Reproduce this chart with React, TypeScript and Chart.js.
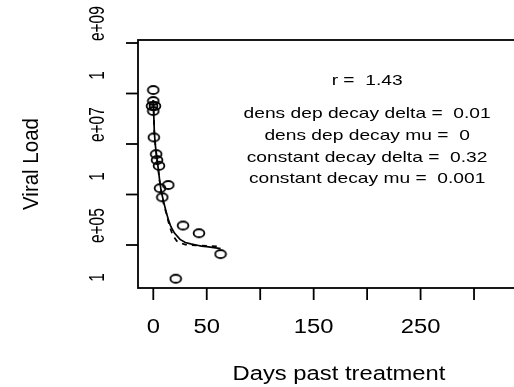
import React, { useEffect, useRef } from "react";
import { Chart, registerables } from "chart.js";

Chart.register(...registerables);

// Observed viral loads
const obsDays = [0, 0, -1.2, 1.6, 0, 0.5, 2.7, 3.5, 5.3, 6.3, 14, 8.4, 27.8, 42.7, 62.9, 21];
const obsLoad = [1.17e8, 7.1e7, 5.65e7, 5.65e7, 4.5e7, 1.35e7, 6.3e6, 4.8e6, 3.7e6, 1.33e6, 1.54e6, 8.8e5, 2.43e5, 1.71e5, 6.6e4, 2.15e4];

// Density-dependent decay fit (solid)
const ddDays = [0, 1, 2, 3, 4, 5, 6, 7, 8, 10, 12, 14, 16, 18, 20, 25, 30, 35, 40, 45, 50, 55, 60, 63];
const ddLoad = [7.41e7, 1.66e7, 9.12e6, 6.03e6, 4.17e6, 2.82e6, 1.86e6, 1.32e6, 1.02e6, 6.76e5, 4.57e5, 3.24e5, 2.45e5, 2.0e5, 1.7e5, 1.29e5, 1.12e5, 1.05e5, 1.0e5, 9.5e4, 9.3e4, 9.0e4, 8.7e4, 8.5e4];

// Constant decay fit (dashed)
const cdDays = [0, 1, 2, 4, 6, 8, 10, 12, 14, 16, 18, 20, 22, 25, 30, 35, 40, 50, 63];
const cdLoad = [7.41e7, 1.66e7, 9.12e6, 4.0e6, 1.8e6, 9.6e5, 6.0e5, 4.4e5, 2.95e5, 2.09e5, 1.62e5, 1.38e5, 1.2e5, 1.1e5, 1.02e5, 1.0e5, 9.8e4, 9.6e4, 9.4e4];

// Axis ticks
const xTicks = [0, 50, 100, 150, 200, 250, 300];
const xTickLabels = ["0", "50", "", "150", "", "250", ""];
const yTicks = [1e5, 1e6, 1e7, 1e8, 1e9];
const yTickLabels = ["1e+05", "", "1e+07", "", "1e+09"];

const xTitle = "Days past treatment";
const yTitle = "Viral Load";

// Annotations
const annotX = 200;
const annotY = [1.47e8, 3.27e7, 1.2e7, 4.31e6, 1.69e6];
const annotText = [
  "r =  1.43",
  "dens dep decay delta =  0.01",
  "dens dep decay mu =  0",
  "constant decay delta =  0.32",
  "constant decay mu =  0.001",
];

const FONT = '"Liberation Sans", Arial, Helvetica, sans-serif';

function drawText(ctx: CanvasRenderingContext2D, text: string, x: number, y: number, size: number, sx: number, sy: number, rot: number) {
  ctx.save();
  ctx.translate(x, y);
  if (rot) ctx.rotate(rot);
  ctx.scale(sx, sy);
  ctx.font = `${size}px ${FONT}`;
  ctx.textAlign = "center";
  ctx.textBaseline = "alphabetic";
  ctx.fillStyle = "#000";
  ctx.fillText(text, 0, 0);
  ctx.restore();
}

const rPlot = {
  id: "rplot",
  afterDraw(chart: any) {
    const { ctx, chartArea: ca, scales } = chart;
    const x = scales.x;
    const y = scales.y;
    ctx.save();
    ctx.strokeStyle = "#000";
    ctx.lineWidth = 1.8;
    ctx.strokeRect(ca.left, ca.top, ca.right - ca.left, ca.bottom - ca.top);

    xTicks.forEach((v, i) => {
      const px = x.getPixelForValue(v);
      ctx.beginPath();
      ctx.moveTo(px, ca.bottom);
      ctx.lineTo(px, ca.bottom + 12);
      ctx.stroke();
      if (xTickLabels[i]) drawText(ctx, xTickLabels[i], px, ca.bottom + 45, 19.5, 1.22, 1, 0);
    });

    yTicks.forEach((v, i) => {
      const py = y.getPixelForValue(v);
      ctx.beginPath();
      ctx.moveTo(ca.left, py);
      ctx.lineTo(ca.left - 12, py);
      ctx.stroke();
      const lab = yTickLabels[i];
      if (lab) drawText(ctx, lab.replace("e", "       e"), ca.left - 34, py, 15.5, 1, 1.38, -Math.PI / 2);
    });

    drawText(ctx, xTitle, (ca.left + ca.right) / 2, ca.bottom + 92, 19.5, 1.22, 1, 0);
    drawText(ctx, yTitle, 38.3, (ca.top + ca.bottom) / 2, 20.5, 1, 1.08, -Math.PI / 2);

    annotText.forEach((t, i) => {
      drawText(ctx, t, x.getPixelForValue(annotX), y.getPixelForValue(annotY[i]), 15, 1.28, 1, 0);
    });
    ctx.restore();
  },
};

function makeRing(): HTMLCanvasElement {
  const c = document.createElement("canvas");
  c.width = 14;
  c.height = 12;
  const g = c.getContext("2d")!;
  g.strokeStyle = "#000";
  g.lineWidth = 1.8;
  g.beginPath();
  g.ellipse(7, 6, 5.4, 4.0, 0, 0, Math.PI * 2);
  g.stroke();
  return c;
}

export default function App() {
  const ref = useRef<HTMLCanvasElement | null>(null);
  useEffect(() => {
    if (!ref.current) return;
    const ring = makeRing();
    const chart = new Chart(ref.current, {
      type: "scatter",
      data: {
        datasets: [
          {
            label: "observed",
            data: obsDays.map((d, i) => ({ x: d, y: obsLoad[i] })),
            pointStyle: ring as any,
            pointRadius: 5,
            showLine: false,
            order: 3,
          },
          {
            label: "constant decay",
            data: cdDays.map((d, i) => ({ x: d, y: cdLoad[i] })),
            showLine: true,
            borderColor: "#000",
            borderWidth: 1.7,
            borderDash: [5, 5],
            pointRadius: 0,
            order: 2,
          },
          {
            label: "dens dep decay",
            data: ddDays.map((d, i) => ({ x: d, y: ddLoad[i] })),
            showLine: true,
            borderColor: "#000",
            borderWidth: 1.7,
            pointRadius: 0,
            order: 1,
          },
        ],
      },
      options: {
        animation: false,
        responsive: false,
        devicePixelRatio: 1,
        events: [],
        layout: { padding: { left: 138, top: 40, right: 20, bottom: 99 } },
        plugins: { legend: { display: false }, tooltip: { enabled: false } },
        scales: {
          x: { type: "linear", min: -14.3, max: 361.7, display: false, bounds: "data" },
          y: { type: "logarithmic", min: 1.408e4, max: 1.1467e9, display: false, bounds: "data" },
        },
      },
      plugins: [rPlot],
    });
    return () => chart.destroy();
  }, []);

  return (
    <div style={{ position: "absolute", left: 0, top: 0, width: 514, height: 387, overflow: "hidden", background: "#fff" }}>
      <canvas ref={ref} width={560} height={387} style={{ display: "block" }} />
    </div>
  );
}
